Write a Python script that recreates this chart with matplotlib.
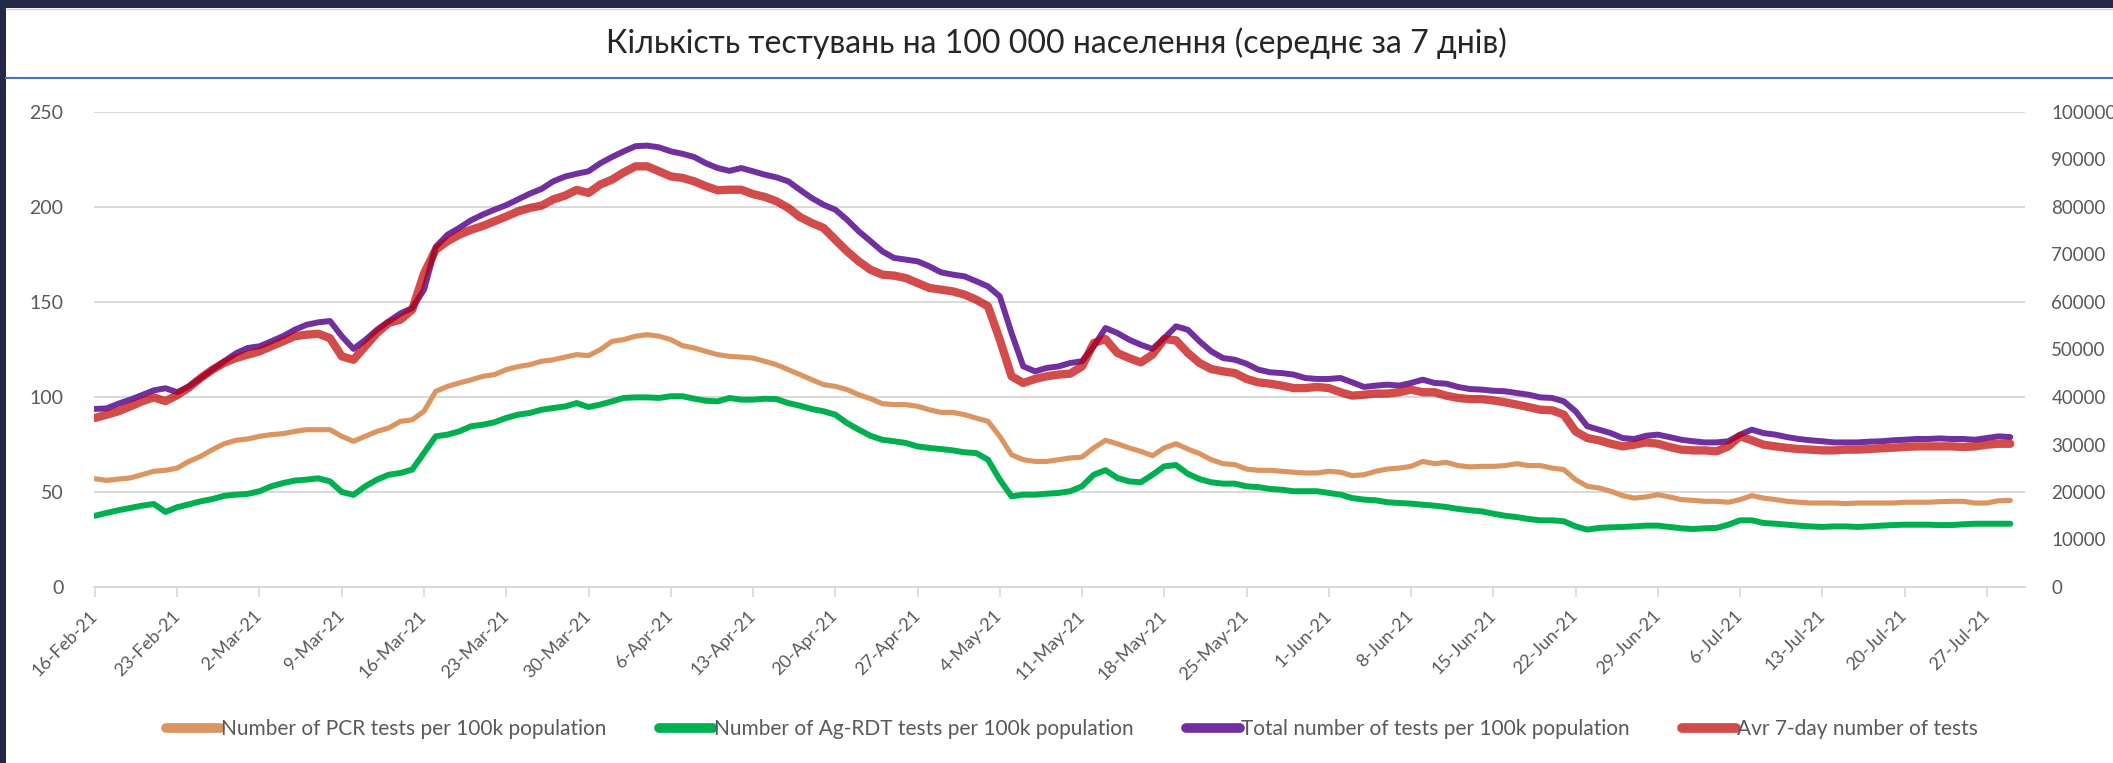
import matplotlib
matplotlib.use("Agg")
import matplotlib.pyplot as plt
import matplotlib.patches as mpatches
from matplotlib.lines import Line2D
import pandas as pd

plt.rcParams['font.family'] = ['Lato', 'Noto Sans', 'DejaVu Sans']

title = "Кількість тестувань на 100 000 населення (середнє за 7 днів)"
start_date = "2021-02-16"

series_names = [
    "Number of PCR tests per 100k population",
    "Number of Ag-RDT tests per 100k population",
    "Total number of tests per 100k population",
    "Avr 7-day number of tests",
]

pcr = [
    57, 56.1, 56.8, 57.4, 59.1, 60.9, 61.4, 62.6, 66.1, 68.8,
    72.3, 75.4, 77.2, 77.9, 79.3, 80.2, 80.7, 81.9, 82.8, 82.8,
    82.8, 79.3, 76.7, 79.3, 81.9, 83.7, 87.2, 88, 92.5, 103,
    105.6, 107.4, 109, 110.9, 111.8, 114.4, 116, 117, 118.8, 119.6,
    121, 122.3,
    121.8, 124.9, 129.3, 130.2, 132, 132.8, 132, 130.2, 127, 125.8,
    124, 122.3, 121.4, 121, 120.5, 118.8, 117, 114.4, 111.8, 109.1,
    106.5, 105.6, 103.9, 101.2, 99.1, 96.5, 96, 96, 95.1, 93.3,
    91.9, 91.9, 90.7, 88.9, 87.2, 79.3, 69.6, 67, 66.1, 66.1,
    67,
    67.9, 68.4, 73.2, 77.2, 75.4, 73.2, 71.4, 69.1, 73.2, 75.4,
    72.6, 70.2, 67, 64.9, 64.4, 62.1, 61.4, 61.4, 60.9, 60.4,
    60, 60, 60.9, 60.4, 58.6, 59.1, 60.9, 62.1, 62.6, 63.5,
    66.1, 64.9, 65.6, 63.9, 63.2, 63.5, 63.5, 63.9, 64.9, 63.9,
    63.9,
    62.6, 61.8, 56.5, 53, 52.1, 50.4, 48.1, 46.8, 47.4, 48.6,
    47.4, 46, 45.6, 45.1, 45.1, 44.6, 46, 48.1, 46.8, 46,
    45.1, 44.6, 44.2, 44.2, 44.2, 43.9, 44.2, 44.2, 44.2, 44.2,
    44.6, 44.6, 44.6, 44.9, 45.1, 45.1, 44.2, 44.2, 45.4, 45.6,
]

ag_rdt = [
    37.5, 39, 40.4, 41.6, 42.8, 43.7, 39.5, 42, 43.5, 45.1,
    46.3, 48, 48.6, 49, 50.4, 53, 54.7, 56, 56.5, 57.2,
    55.6, 50, 48.5, 53, 56.5, 59.1, 60, 61.8, 70.5, 79.3,
    80.2, 81.9, 84.6, 85.4, 86.7, 89, 90.7, 91.6, 93.3, 94.2,
    95, 96.8,
    94.7, 96, 97.7, 99.5, 99.8, 99.8, 99.5, 100.4, 100.4, 99.1,
    98, 97.7, 99.5, 98.6, 98.6, 99.1, 98.9, 96.8, 95.4, 93.7,
    92.5, 90.7, 86.3, 82.8, 79.6, 77.5, 76.7, 75.8, 74, 73.2,
    72.6, 71.9, 70.9, 70.5, 67, 56.5, 47.7, 48.6, 48.6, 49.1,
    49.5,
    50.4, 53, 59.1, 61.5, 57.4, 55.6, 55.1, 59.1, 63.5, 64.2,
    59.6, 56.8, 55.1, 54.4, 54.4, 53, 52.6, 51.6, 51.2, 50.4,
    50.4, 50.4, 49.5, 48.6, 46.8, 46, 45.6, 44.6, 44.2, 43.9,
    43.3, 42.8, 42.1, 41.1, 40.4, 39.8, 38.6, 37.5, 36.8, 35.8,
    35.1,
    35.1, 34.6, 31.9, 30.2, 31.1, 31.4, 31.6, 31.9, 32.3, 32.3,
    31.6, 30.9, 30.5, 30.9, 31.1, 32.8, 35.1, 35.1, 33.7, 33.3,
    32.8, 32.3, 31.9, 31.6, 31.9, 31.9, 31.6, 31.9, 32.3, 32.6,
    32.8, 32.8, 32.8, 32.6, 32.6, 33, 33.3, 33.3, 33.3, 33.3,
]

total = [
    93.7, 94, 96.5, 98.6, 101, 103.5, 104.6, 102.5, 105.6, 110,
    114.4, 118.8, 123, 125.8, 126.7, 129.3, 132, 135.4, 138, 139.3,
    140, 132, 125.3, 130, 135.4, 139.8, 144, 146.8, 156.5, 179,
    185.4, 189, 193, 196, 198.6, 201, 204, 207, 209.5, 213.5,
    216, 217.5,
    218.8, 223, 226.3, 229.3, 232, 232.3, 231.4, 229.3, 228, 226.3,
    223, 220.5, 219, 220.5, 218.8, 217, 215.6, 213.5, 209, 204.7,
    201.2, 198.6, 193.3, 187.2, 182, 176.7, 173.2, 172.3, 171.4, 168.8,
    165.6, 164.4, 163.5, 160.9, 158.2, 153, 133.7, 116.1, 113.5, 115.3,
    116.1,
    117.9, 118.8, 126.7, 136.3, 133.7, 130.2, 127.5, 125.3, 131, 137.2,
    135.4, 129.3, 124, 120.5, 119.6, 117.5, 114.4, 113, 112.6, 111.8,
    110, 109.5, 109.5, 110, 107.7, 105.3, 106, 106.5, 106, 107.4,
    109.1, 107.4, 107, 105.3, 104.2, 103.9, 103.3, 103, 102.1, 101.2,
    99.8,
    99.5, 97.7, 92.5, 84.6, 82.8, 81, 78.4, 77.9, 79.6, 80.2,
    78.9, 77.5, 76.7, 76.1, 76.1, 76.7, 80.2, 82.8, 81, 80.2,
    78.9, 77.9, 77.2, 76.7, 76.1, 76.1, 76.1, 76.5, 76.7, 77.2,
    77.5, 77.9, 77.9, 78.2, 77.9, 77.9, 77.5, 78.4, 79.3, 78.9,
]

avg7 = [
    35600, 36280, 37000, 38000, 39080, 39920, 39120, 40400, 42000, 44000,
    45760, 47200, 48200, 48920, 49600, 50680, 51720, 52800, 53120, 53320,
    52400, 48560, 47840, 50680, 53480, 55600, 56280, 58400, 66000, 71000,
    72800, 74160, 75200, 76000, 77000, 78000, 79080, 79800, 80280, 81600,
    82400, 83600,
    82960, 84720, 85760, 87280, 88560, 88560, 87520, 86440, 86120, 85400,
    84360, 83520, 83640, 83640, 82720, 82120, 81200, 79800, 77880, 76640,
    75600, 73120, 70680, 68560, 66800, 65760, 65560, 65040, 64000, 62960,
    62600, 62240, 61560, 60480, 59080, 52080, 44360, 42960, 43800, 44360,
    44720,
    44920, 46440, 51360, 52200, 49280, 48200, 47280, 48920, 52200, 51920,
    49280, 47160, 45880, 45400, 45040, 43800, 43080, 42800, 42400, 41880,
    41880, 42120, 41880, 41000, 40280, 40480, 40720, 40720, 41000, 41560,
    41000, 41000, 40280, 39800, 39560, 39560, 39280, 38880, 38400, 37880,
    37320,
    37200, 36280, 32760, 31360, 30880, 30160, 29600, 29960, 30440, 30160,
    29480, 28920, 28760, 28760, 28560, 29600, 31720, 30880, 29960, 29600,
    29280, 29040, 28920, 28760, 28760, 28920, 28920, 29040, 29200, 29320,
    29480, 29600, 29600, 29600, 29600, 29480, 29600, 29960, 30160, 30160,
]

tick_labels = [
    "16-Feb-21", "23-Feb-21", "2-Mar-21", "9-Mar-21", "16-Mar-21", "23-Mar-21",
    "30-Mar-21", "6-Apr-21", "13-Apr-21", "20-Apr-21", "27-Apr-21", "4-May-21",
    "11-May-21", "18-May-21", "25-May-21", "1-Jun-21", "8-Jun-21", "15-Jun-21",
    "22-Jun-21", "29-Jun-21", "6-Jul-21", "13-Jul-21", "20-Jul-21", "27-Jul-21",
]
left_ticks = [0, 50, 100, 150, 200, 250]
right_ticks = [0, 10000, 20000, 30000, 40000, 50000, 60000, 70000, 80000, 90000, 100000]

dates = pd.date_range(start_date, periods=len(total), freq="D")
tick_dates = pd.date_range(start_date, periods=len(tick_labels), freq="7D")

W, H = 2113, 763
fig = plt.figure(figsize=(W / 100, H / 100), dpi=100)
fig.patch.set_facecolor("white")

# dark frame strips
navy = "#222846"
fig.add_artist(mpatches.Rectangle((0, 1 - 8 / H), 1, 8 / H, transform=fig.transFigure,
                                  facecolor=navy, edgecolor="none", zorder=0))
fig.add_artist(mpatches.Rectangle((0, 0), 6 / W, 1, transform=fig.transFigure,
                                  facecolor=navy, edgecolor="none", zorder=0))
fig.add_artist(Line2D([6 / W, 1], [1 - 9 / H, 1 - 9 / H], transform=fig.transFigure,
                      color="#D0D0D0", lw=1.0))
# blue separator under title
fig.add_artist(Line2D([6 / W, 1], [1 - 77.5 / H, 1 - 77.5 / H], transform=fig.transFigure,
                      color="#4472C4", lw=1.5))

fig.text(0.5, 1 - 43 / H, title, ha="center", va="center", fontsize=23, color="#262626")

ax = fig.add_axes([94 / W, 176 / H, (2025 - 94) / W, (587 - 112) / H])
ax2 = ax.twinx()

grey = "#D9D9D9"
tick_col = "#595959"

c_pcr, c_ag, c_tot, c_avg = "#DA9560", "#00B050", "#7030A0", "#C00000"
kw = dict(solid_capstyle="round", solid_joinstyle="round")
l1, = ax.plot(dates, pcr, color=c_pcr, lw=3.7, label=series_names[0], zorder=3, **kw)
l2, = ax.plot(dates, ag_rdt, color=c_ag, lw=4.3, label=series_names[1], zorder=3, **kw)
l3, = ax.plot(dates, total, color=c_tot, lw=4.3, label=series_names[2], zorder=3, **kw)
l4, = ax2.plot(dates, avg7, color=c_avg, lw=6.0, alpha=0.7, label=series_names[3], zorder=3, **kw)

xmin = dates[0] - pd.Timedelta(hours=2)
xmax = dates[-1] + pd.Timedelta(hours=30)
ax.set_xlim(xmin, xmax)
ax.set_ylim(0, 250)
ax2.set_ylim(0, 100000)

ax.set_yticks(left_ticks)
ax.set_yticklabels([str(v) for v in left_ticks])
ax2.set_yticks(right_ticks)
ax2.set_yticklabels([str(v) for v in right_ticks])

ax.set_xticks(tick_dates)
ax.set_xticklabels(tick_labels, rotation=45, ha="right", va="center",
                   rotation_mode="anchor", fontsize=13, color=tick_col)

ax.grid(axis="y", color=grey, lw=1.4, zorder=0)
ax.set_axisbelow(True)
for a in (ax, ax2):
    for s in ("top", "left", "right", "bottom"):
        a.spines[s].set_visible(False)
ax.spines["bottom"].set_visible(True)
ax.spines["bottom"].set_color(grey)
ax.spines["bottom"].set_linewidth(1.4)

ax.tick_params(axis="x", length=7, width=1.2, color=grey, pad=12)
ax.tick_params(axis="y", length=0, pad=22, labelsize=14, labelcolor=tick_col)
ax2.tick_params(axis="y", length=0, pad=19, labelsize=13.5, labelcolor=tick_col)
ax.patch.set_visible(False)
ax2.set_zorder(ax.get_zorder() + 1)

leg = fig.legend(handles=[l1, l2, l3, l4], loc="center",
                 bbox_to_anchor=(1072 / W, 1 - 729 / H), ncol=4, frameon=False,
                 fontsize=15, handlelength=2.6, handletextpad=0.05, columnspacing=2.5,
                 labelcolor=tick_col)
for h in leg.legend_handles:
    h.set_linewidth(7)
    h.set_alpha(1.0)
leg.legend_handles[3].set_color("#D24B4B")

fig.savefig("out.png", dpi=100, facecolor="white")
